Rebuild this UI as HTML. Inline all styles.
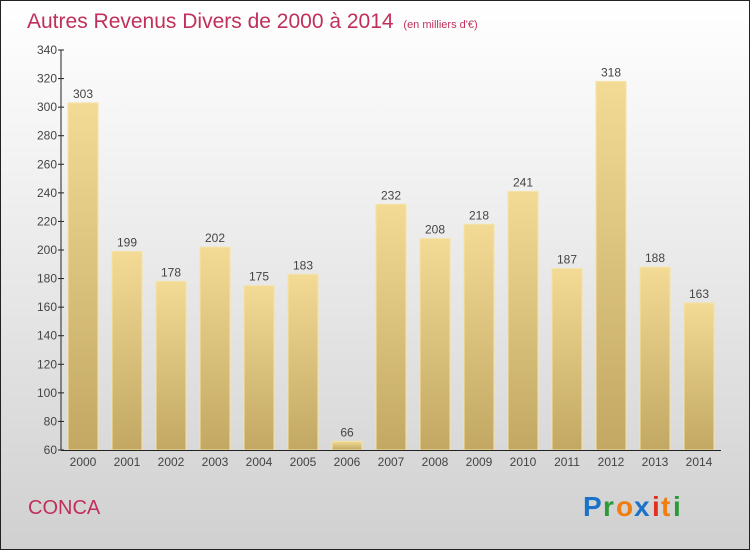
<!DOCTYPE html>
<html><head><meta charset="utf-8"><style>
html,body{margin:0;padding:0;}
body{width:750px;height:550px;overflow:hidden;font-family:"Liberation Sans",sans-serif;}
#frame{position:absolute;left:0;top:0;width:748px;height:548px;border:1px solid #222;background:linear-gradient(#ffffff,#f2f2f2 30%,#d0d0d0);}
</style></head><body>
<div id="frame">
<svg id="chart" width="750" height="550" style="position:absolute;left:-1px;top:-1px">
<defs>
<linearGradient id="bg" x1="0" y1="0" x2="0" y2="1"><stop offset="0" stop-color="#f3db95"/><stop offset="1" stop-color="#c2a862"/></linearGradient>
</defs>
<text x="27" y="28" font-size="21" fill="#c0305a">Autres Revenus Divers de 2000 à 2014 <tspan font-size="11" dx="4">(en milliers d'€)</tspan></text>
<g id="bars"></g>
<g id="axes"></g>
<text x="28" y="514" font-size="20" fill="#c0305a">CONCA</text>
<g font-size="28" font-weight="bold" font-family="'Liberation Sans',sans-serif">
<text x="583" y="516" fill="#1a73c8">P</text><text x="603" y="516" fill="#2a9a3a">r</text><text x="616" y="516" fill="#f07d10">o</text><text x="634" y="516" fill="#1a73c8">x</text><text x="652" y="516" fill="#e03020">i</text><text x="661" y="516" fill="#f07d10">t</text><text x="673" y="516" fill="#2a9a3a">i</text>
</g>
</svg>
</div>
<script>
const years=["2000","2001","2002","2003","2004","2005","2006","2007","2008","2009","2010","2011","2012","2013","2014"];
const values=[303,199,178,202,175,183,66,232,208,218,241,187,318,188,163];
const yTicks=[60,80,100,120,140,160,180,200,220,240,260,280,300,320,340];
const NS="http://www.w3.org/2000/svg";
const x0=61,x1=721,yTop=50,yBot=450,vMin=60,vMax=340;
const y=v=>yBot-(v-vMin)/(vMax-vMin)*(yBot-yTop);
const step=(x1-x0)/years.length;
const xc=i=>x0+step*(i+0.5);
function mk(tag,attrs,parent){const e=document.createElementNS(NS,tag);for(const k in attrs)e.setAttribute(k,attrs[k]);parent.appendChild(e);return e;}
const bars=document.getElementById('bars'),axes=document.getElementById('axes');
yTicks.forEach(t=>{
 const tk=mk('line',{x1:x0-3,x2:x0+3,y1:y(t),y2:y(t),stroke:'#222'},axes);
 
 
 const tx=mk('text',{x:x0-4,y:y(t)+4,'text-anchor':'end','font-size':12,fill:'#444'},axes);
 tx.textContent=t;
 
 
});
values.forEach((v,i)=>{
 const r=mk('rect',{x:xc(i)-15,y:y(v),width:30,height:yBot-y(v),fill:'url(#bg)',stroke:'#f5e3a8','stroke-width':1},bars);
 
 
 const t=mk('text',{x:xc(i),y:y(v)-5,'text-anchor':'middle','font-size':12,fill:'#444'},bars);
 t.textContent=v;
 
 
 const xl=mk('text',{x:xc(i),y:466,'text-anchor':'middle','font-size':12,fill:'#444'},axes);
 xl.textContent=years[i];
 
 
});
const ya=mk('line',{x1:x0,x2:x0,y1:yTop,y2:yBot,stroke:'#222'},axes);


const xa=mk('line',{x1:x0,x2:x1,y1:yBot+0.5,y2:yBot+0.5,stroke:'#222'},axes);


</script>
</body></html>
